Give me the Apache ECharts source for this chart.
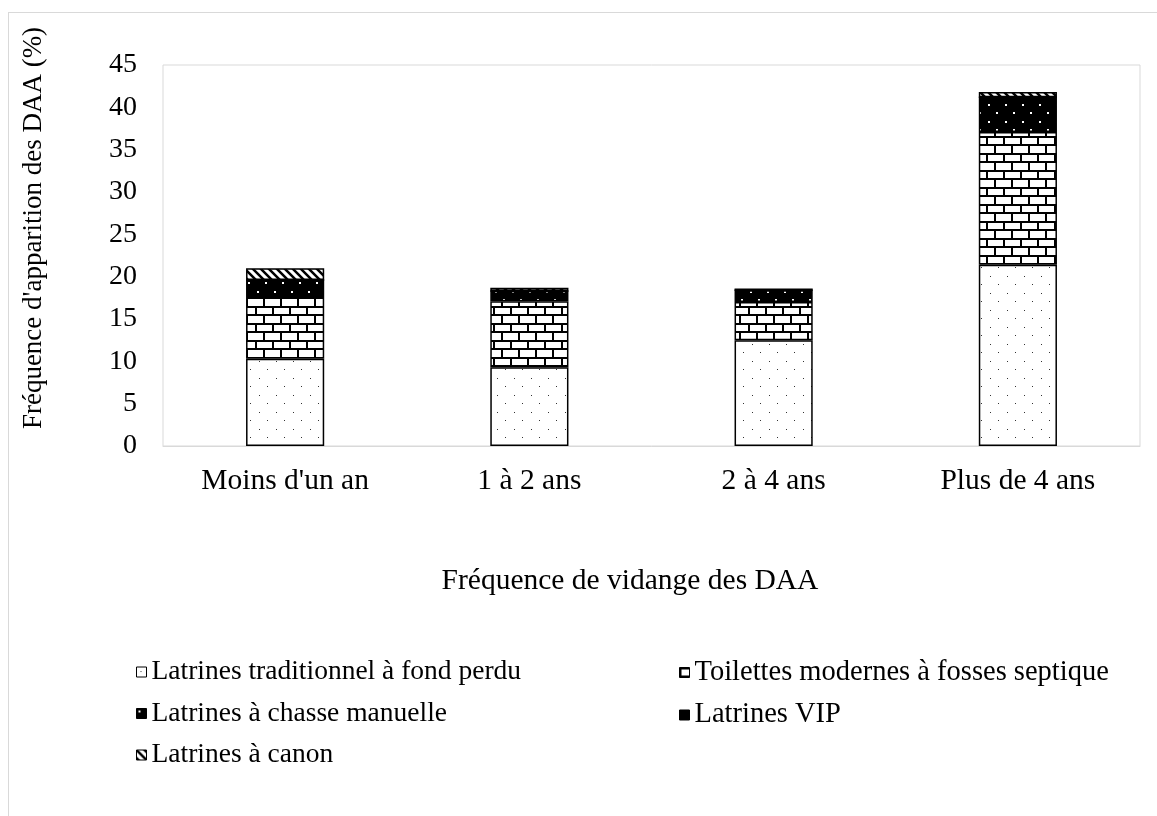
<!DOCTYPE html>
<html>
<head>
<meta charset="utf-8">
<script src="https://cdn.jsdelivr.net/npm/echarts@6/dist/echarts.min.js"></script>
<style>
  html, body { margin: 0; padding: 0; background: #fff; }
  #frame { position: absolute; left: 8px; top: 12px; width: 1160px; height: 820px; border: 1px solid #d9d9d9; box-sizing: border-box; }
  #chart { position: absolute; left: 0; top: 0; width: 1157px; height: 816px; }
</style>
</head>
<body>
<div id="frame"></div>
<div id="chart"></div>
<script>
// Fréquence de vidange vs. type de dispositif d'assainissement
const categories = ["Moins d'un an", "1 à 2 ans", "2 à 4 ans", "Plus de 4 ans"];
const seriesNames = [
  "Latrines traditionnel à fond perdu",
  "Toilettes modernes à fosses septique",
  "Latrines à chasse manuelle",
  "Latrines VIP",
  "Latrines à canon"
];
const traditionnel = [10.3, 9.3, 12.5, 21.4];
const modernes     = [7.3, 7.8, 4.5, 15.7];
const chasse       = [2.0, 1.2, 1.4, 4.1];
const vip          = [0, 0, 0, 0];
const canon        = [1.4, 0.4, 0.2, 0.6];
const yTicks = { min: 0, max: 45, interval: 5 };
const xTitle = 'Fréquence de vidange des DAA';
const yTitle = "Fréquence d'apparition des DAA (%)";

function tile(w, h, draw) {
  const c = document.createElement('canvas');
  c.width = w; c.height = h;
  const g = c.getContext('2d');
  draw(g, w, h);
  return { image: c, repeat: 'repeat' };
}

// sparse dots on white
const dotFill = tile(17, 17, (g) => {
  g.fillStyle = '#fff'; g.fillRect(0, 0, 17, 17);
  g.fillStyle = '#333';
  g.fillRect(4, 4, 1, 1);
  g.fillRect(12, 12, 1, 1);
});
// brick courses
const brickFill = tile(17, 17, (g) => {
  g.fillStyle = '#fff'; g.fillRect(0, 0, 17, 17);
  g.fillStyle = '#000';
  g.fillRect(0, 0, 17, 2);
  g.fillRect(0, 8, 17, 2);
  g.fillRect(0, 0, 2, 8);
  g.fillRect(8, 8, 2, 9);
});
// black with white dots
const blackDotFill = tile(17, 17, (g) => {
  g.fillStyle = '#000'; g.fillRect(0, 0, 17, 17);
  g.fillStyle = '#fff';
  g.fillRect(2, 2, 2, 2);
  g.fillRect(10, 10, 2, 2);
});
const solidFill = '#000';
// diagonal stripes
const stripeFill = tile(8, 8, (g) => {
  g.fillStyle = '#fff'; g.fillRect(0, 0, 8, 8);
  g.strokeStyle = '#000'; g.lineWidth = 2.5;
  g.beginPath();
  g.moveTo(-2, -2); g.lineTo(10, 10);
  g.moveTo(-2, 6); g.lineTo(2, 10);
  g.moveTo(6, -2); g.lineTo(10, 2);
  g.stroke();
});

const fills = [dotFill, brickFill, blackDotFill, solidFill, stripeFill];
const values = [traditionnel, modernes, chasse, vip, canon];

const font = 'Liberation Serif';
const series = seriesNames.map((name, i) => ({
  name: name,
  type: 'bar',
  stack: 'total',
  barWidth: '32%',
  data: values[i],
  itemStyle: { color: fills[i], borderColor: '#000', borderWidth: 1.5 },
  emphasis: { disabled: true }
}));

const legendText = { fontFamily: font, fontSize: 27.5, color: '#000', lineHeight: 28 };
const legendBase = {
  orient: 'vertical', itemWidth: 10, itemHeight: 10, itemGap: 13.5,
  textStyle: legendText, icon: 'rect', selectedMode: false,
  itemStyle: { borderColor: '#000', borderWidth: 1 }
};

const chart = echarts.init(document.getElementById('chart'), null, { renderer: 'canvas' });
chart.setOption({
  animation: false,
  backgroundColor: 'transparent',
  grid: { left: 163, right: 17, top: 65, bottom: 370, show: true, borderColor: '#d9d9d9', borderWidth: 1 },
  xAxis: {
    type: 'category',
    data: categories,
    axisLine: { show: true, lineStyle: { color: '#d9d9d9' } },
    axisTick: { show: false },
    axisLabel: { fontFamily: font, fontSize: 29.5, color: '#000', margin: 20 }
  },
  yAxis: {
    type: 'value',
    min: yTicks.min, max: yTicks.max, interval: yTicks.interval,
    axisLine: { show: false },
    axisTick: { show: false },
    splitLine: { show: false },
    axisLabel: { fontFamily: font, fontSize: 28, color: '#000', margin: 26 }
  },
  graphic: [{
    type: 'text',
    x: 34, y: 228,
    rotation: Math.PI / 2,
    style: {
      text: yTitle,
      fontFamily: font, fontSize: 27, fill: '#000',
      align: 'center', verticalAlign: 'middle'
    }
  }, {
    type: 'text',
    x: 630, y: 581,
    style: {
      text: xTitle,
      fontFamily: font, fontSize: 29.5, fill: '#000',
      align: 'center', verticalAlign: 'middle'
    }
  }],
  legend: [
    Object.assign({}, legendBase, { left: 131, top: 653, data: [seriesNames[0], seriesNames[2], seriesNames[4]] }),
    Object.assign({}, legendBase, { left: 674, top: 653, textStyle: Object.assign({}, legendText, { fontSize: 28.5 }), data: [seriesNames[1], seriesNames[3]] })
  ],
  series: series
});
</script>
</body>
</html>
